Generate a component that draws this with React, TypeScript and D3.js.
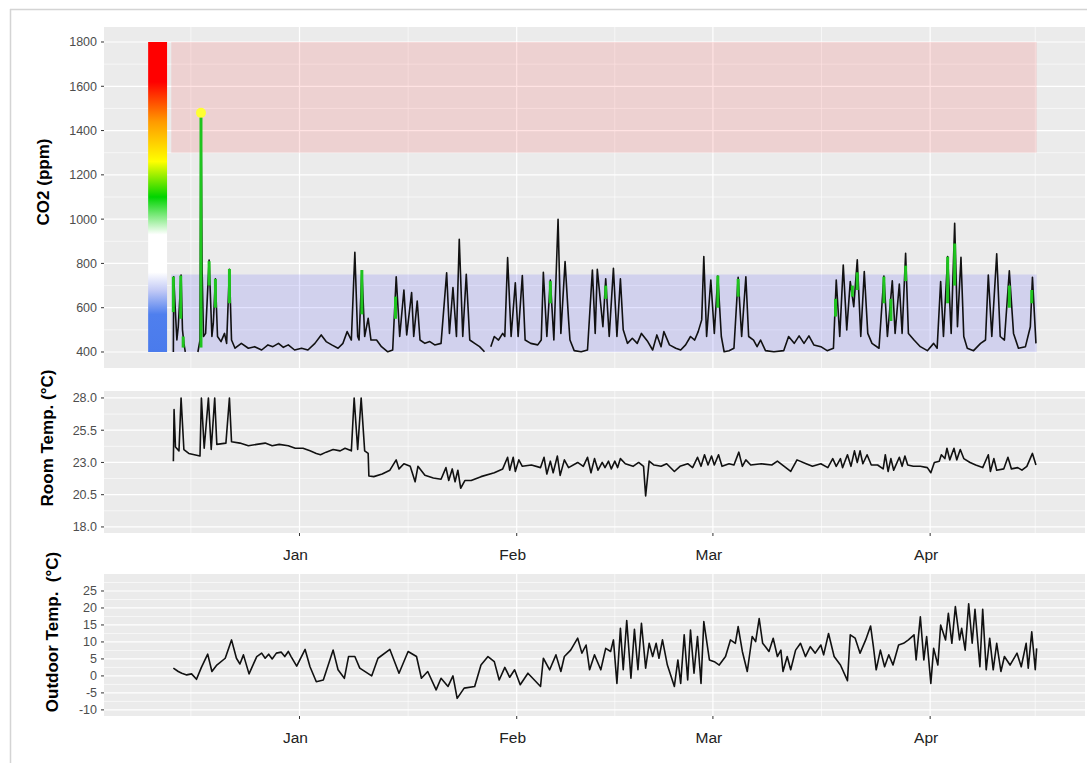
import * as d3 from "d3";

// day offsets are days from 1 Jan 2019 (negative = December 2018)
const co2Data: [number, number | null][] = [
  [-18.0, 400], [-17.95, 740], [-17.7, 575], [-17.5, 454], [-17.3, 515], [-16.9, 748],
  [-16.7, 500], [-16.5, 440], [-16.3, 400], [-15.9, null],
  [-14.5, 400], [-14.2, 454], [-14.06, 1465], [-13.9, 770], [-13.7, 470], [-13.4, 484],
  [-12.9, 815], [-12.5, 470], [-12.3, 530], [-12.0, 730], [-11.7, 470], [-11.2, 447],
  [-10.7, 484], [-10.4, 439], [-10.0, 773], [-9.7, 454], [-9.2, 417], [-8.3, 439],
  [-7.3, 417], [-6.4, 424], [-5.4, 409], [-4.5, 432], [-3.8, 424], [-3.0, 439],
  [-2.3, 421], [-1.6, 432], [-0.7, 409], [0.3, 417], [1.2, 409], [2.2, 439],
  [3.1, 477], [3.8, 447], [4.6, 432], [5.5, 417], [6.2, 439], [6.8, 492], [7.4, 454],
  [7.9, 850], [8.3, 470], [8.5, 454], [8.9, 767], [9.3, 470], [9.8, 552], [10.2, 454],
  [11.0, 454], [11.7, 424], [12.6, 401], [13.3, 409], [13.8, 740], [14.3, 470],
  [14.9, 680], [15.3, 477], [16.0, 668], [16.3, 470], [16.8, 630], [17.2, 454],
  [17.9, 439], [18.6, 447], [19.3, 432], [20.2, 439], [21.0, 758], [21.4, 484],
  [21.9, 691], [22.4, 470], [22.8, 909], [23.3, 470], [23.8, 751], [24.3, 454],
  [25.0, 439], [25.7, 424], [26.4, 401], [26.8, null],
  [27.3, 424], [27.8, 470], [28.4, 454], [29.0, 484], [29.3, 470], [29.7, 826],
  [30.2, 470], [30.8, 713], [31.2, 470], [31.8, 745], [32.2, 454], [33.0, 439],
  [34.0, 432], [34.5, 454], [34.8, 760], [35.3, 470], [35.8, 725], [36.3, 454],
  [36.9, 999], [37.3, 484], [37.9, 808], [38.4, 545], [38.6, 454], [39.2, 406],
  [40.2, 401], [41.1, 409], [41.8, 770], [42.2, 484], [42.5, 773], [43.3, 514],
  [43.7, 730], [44.2, 470], [44.8, 778], [45.3, 470], [45.8, 730], [46.2, 500],
  [46.8, 439], [47.5, 462], [48.2, 439], [48.8, 484], [49.7, 447], [50.4, 409],
  [51.0, 477], [51.6, 424], [52.0, 492], [52.8, 432], [53.7, 417], [54.4, 409],
  [55.1, 432], [55.8, 470], [56.4, 454], [56.9, 492], [57.4, 545], [57.7, 831],
  [58.1, 470], [58.7, 725], [59.2, 484], [59.7, 743], [60.2, 470], [60.6, 401],
  [61.3, 406], [62.0, 417], [62.6, 737], [63.1, 470], [63.7, 740], [64.1, 470],
  [64.8, 454], [65.3, 424], [65.8, 454], [66.5, 406], [67.7, 401], [69.1, 406],
  [69.8, 470], [70.6, 439], [71.3, 473], [72.0, 439], [72.7, 473], [73.4, 432],
  [74.4, 424], [75.3, 406], [76.2, 417], [76.6, 725], [77.1, 470], [77.6, 793],
  [78.1, 500], [78.6, 718], [79.1, 605], [79.6, 816], [80.1, 470], [80.6, 763],
  [81.1, 484], [81.7, 439], [82.7, 417], [83.4, 743], [83.9, 470], [84.6, 722],
  [85.0, 484], [85.6, 707], [86.0, 484], [86.5, 846], [86.9, 484], [87.7, 454],
  [88.6, 424], [89.6, 406], [90.5, 439], [91.0, 417], [91.5, 718], [91.9, 470],
  [92.5, 831], [93.0, 484], [93.5, 981], [93.9, 514], [94.4, 828], [94.8, 470],
  [95.3, 417], [96.2, 406], [97.2, 439], [97.9, 454], [98.3, 748], [98.8, 470],
  [99.5, 843], [100.0, 470], [100.6, 454], [101.3, 767], [101.9, 484], [102.6, 417],
  [103.6, 424], [104.3, 514], [104.6, 737], [105.1, 439],
];

// [day, low ppm, high ppm] highlighted stretches
const co2Highlights: [number, number, number][] = [
  [-18.0, 580, 740], [-16.95, 550, 745], [-16.6, 420, 470], [-14.06, 420, 1460],
  [-12.9, 700, 810], [-12.0, 600, 730], [-10.0, 620, 775], [8.9, 570, 770],
  [13.7, 550, 650], [35.8, 620, 720], [43.7, 640, 700], [59.7, 600, 745],
  [62.6, 650, 730], [76.5, 560, 640], [78.9, 650, 700], [79.6, 680, 760],
  [83.4, 620, 740], [84.4, 540, 640], [86.5, 720, 790], [92.5, 620, 830],
  [93.5, 700, 890], [101.3, 600, 700], [104.5, 620, 680],
];
const co2Max: [number, number] = [-14.06, 1480];

const roomData: [number, number][] = [
  [-18.0, 23.1], [-17.9, 27.1], [-17.7, 24.2], [-17.2, 23.9], [-16.9, 28.0], [-16.5, 24.0],
  [-15.8, 23.7], [-15.0, 23.6], [-14.2, 23.5], [-14.0, 28.0], [-13.6, 24.1], [-13.0, 28.0],
  [-12.6, 24.0], [-12.1, 28.0], [-11.8, 24.4], [-10.5, 24.5], [-10.0, 28.0], [-9.7, 24.6],
  [-8.5, 24.5], [-7.3, 24.3], [-6.1, 24.4], [-4.9, 24.5], [-3.9, 24.3], [-2.9, 24.4],
  [-1.6, 24.3], [-0.6, 24.1], [0.5, 24.1], [1.5, 23.9], [2.4, 23.7], [3.0, 23.6],
  [3.8, 23.8], [4.8, 24.0], [5.8, 23.9], [6.5, 24.1], [7.4, 23.9], [7.8, 28.0],
  [8.3, 24.0], [8.8, 28.0], [9.3, 23.9], [9.8, 23.7], [9.9, 21.95], [10.6, 21.9],
  [11.8, 22.1], [12.9, 22.4], [13.8, 23.2], [14.2, 22.5], [14.9, 22.9], [15.8, 22.7],
  [16.5, 21.5], [16.9, 22.7], [17.9, 22.0], [19.1, 21.8], [20.2, 21.7], [20.9, 22.6],
  [21.3, 21.6], [21.8, 22.5], [22.2, 21.5], [22.6, 22.4], [23.0, 21.0], [23.6, 21.6],
  [24.5, 21.6], [25.9, 21.9], [27.8, 22.2], [29.0, 22.5], [29.7, 23.4], [30.0, 22.4],
  [30.5, 23.4], [30.8, 22.3], [31.3, 23.2], [31.8, 22.7], [33.1, 22.8], [34.4, 22.6],
  [34.9, 23.4], [35.3, 22.1], [35.8, 23.1], [36.2, 22.2], [36.8, 23.5], [37.2, 22.0],
  [37.8, 23.2], [38.4, 22.6], [39.7, 23.0], [40.5, 22.7], [41.1, 23.4], [41.6, 22.2],
  [42.1, 23.3], [42.6, 22.4], [43.2, 23.0], [43.6, 22.6], [44.1, 23.1], [44.5, 22.5],
  [45.0, 23.1], [45.4, 22.6], [45.8, 23.3], [46.5, 22.9], [47.6, 22.7], [48.4, 23.0],
  [49.1, 22.7], [49.4, 20.4], [49.9, 23.1], [50.6, 22.8], [51.6, 22.7], [52.4, 22.9],
  [53.5, 22.3], [54.3, 22.7], [55.4, 22.9], [56.1, 22.6], [56.8, 23.4], [57.3, 22.7],
  [57.8, 23.6], [58.3, 22.8], [58.8, 23.5], [59.2, 22.8], [59.8, 23.6], [60.3, 22.7],
  [61.3, 22.9], [62.0, 22.8], [62.7, 23.8], [63.2, 22.7], [63.7, 23.2], [64.4, 22.8],
  [65.9, 22.9], [67.4, 22.8], [68.2, 23.1], [70.1, 22.3], [71.0, 23.2], [72.3, 22.9],
  [73.2, 22.7], [74.4, 22.9], [75.4, 22.6], [76.1, 23.3], [76.6, 22.7], [77.2, 23.3],
  [77.5, 22.6], [78.2, 23.6], [78.7, 22.7], [79.2, 23.9], [79.6, 23.0], [80.0, 23.9],
  [80.4, 22.9], [81.0, 23.6], [81.6, 22.8], [82.5, 22.8], [83.3, 22.5], [83.6, 23.6],
  [84.0, 22.3], [84.4, 23.3], [84.8, 22.4], [85.6, 23.4], [86.0, 22.7], [86.4, 23.5],
  [86.8, 22.8], [87.6, 22.7], [88.6, 22.7], [89.6, 22.6], [90.1, 22.2], [90.6, 23.0],
  [91.3, 23.1], [91.6, 23.6], [92.1, 23.3], [92.4, 24.1], [92.8, 23.2], [93.4, 24.1],
  [93.8, 23.2], [94.3, 24.0], [94.8, 23.3], [95.7, 23.0], [96.5, 22.8], [97.5, 22.6],
  [98.3, 23.6], [98.6, 22.3], [99.1, 23.3], [99.5, 22.4], [100.5, 22.5], [101.1, 23.4],
  [101.6, 22.5], [102.5, 22.6], [103.1, 22.4], [103.8, 22.7], [104.6, 23.7], [105.1, 22.8],
];

const outdoorData: [number, number][] = [
  [-18.0, 2.3], [-17.3, 1.3], [-16.8, 0.8], [-16.1, 0.3], [-15.4, 0.6], [-14.7, -1.0],
  [-14.0, 2.5], [-13.1, 6.4], [-12.5, 1.3], [-11.8, 3.2], [-10.6, 5.2], [-9.7, 10.6],
  [-9.0, 5.2], [-8.5, 3.5], [-8.0, 6.2], [-7.2, 0.6], [-6.1, 5.7], [-5.4, 6.7],
  [-4.9, 5.2], [-4.4, 6.4], [-3.9, 5.0], [-3.3, 6.7], [-2.6, 7.0], [-2.1, 5.7],
  [-1.6, 7.2], [-1.2, 5.7], [-0.4, 2.9], [0.8, 7.8], [1.5, 2.7], [2.4, -1.7],
  [3.4, -1.2], [4.8, 7.6], [5.5, 1.8], [6.4, -0.7], [7.0, 5.7], [7.9, 5.7], [8.6, 2.3],
  [10.3, 0.0], [11.2, 5.2], [12.9, 7.8], [14.2, 0.8], [15.5, 7.2], [16.7, 5.7],
  [17.4, -0.7], [18.3, 1.3], [19.5, -4.1], [20.2, -0.7], [21.2, -3.1], [21.9, 0.0],
  [22.5, -6.6], [23.5, -3.6], [25.0, -3.1], [25.9, 3.2], [26.9, 5.7], [27.8, 4.2],
  [28.5, -1.2], [29.3, 2.5], [30.0, -0.4], [30.7, 1.8], [31.5, -2.6], [32.6, 0.8],
  [34.4, -3.1], [34.8, 5.2], [35.7, 1.8], [36.6, 6.2], [37.3, 1.3], [37.8, 5.7],
  [38.7, 7.6], [39.7, 11.1], [40.3, 6.7], [40.9, 9.1], [41.4, 1.8], [42.1, 6.2],
  [43.0, 1.8], [43.7, 8.1], [44.4, 7.2], [44.8, 10.6], [45.3, -2.2], [45.8, 14.0],
  [46.2, 1.8], [46.7, 16.3], [47.3, -0.7], [47.8, 13.7], [48.3, 1.8], [48.8, 15.5],
  [49.4, 2.3], [49.9, 9.6], [50.4, 5.7], [50.9, 9.6], [51.3, 5.2], [51.8, 10.6],
  [52.5, 3.2], [53.5, -3.1], [54.0, 4.7], [54.4, -2.2], [54.9, 12.1], [55.4, -1.2],
  [55.8, 13.5], [56.3, 0.8], [56.8, 11.6], [57.3, -2.2], [57.7, 16.0], [58.5, 4.7],
  [59.2, 4.2], [59.9, 3.2], [60.8, 5.7], [61.5, 10.6], [62.2, 9.6], [62.6, 14.5],
  [63.2, 7.2], [63.9, 1.3], [64.6, 11.6], [65.1, 10.1], [65.6, 16.9], [66.1, 9.6],
  [66.5, 8.6], [67.0, 7.2], [67.6, 11.1], [68.2, 5.7], [68.7, 7.6], [69.0, 1.3],
  [69.6, 5.7], [70.1, 1.8], [70.8, 7.6], [71.5, 9.6], [72.2, 5.7], [72.9, 8.6],
  [73.6, 6.7], [74.4, 9.1], [74.8, 6.2], [75.5, 12.5], [76.3, 5.7], [77.2, 3.2],
  [78.2, -1.4], [78.6, 12.1], [79.3, 11.1], [80.0, 6.7], [80.8, 10.6], [81.5, 14.7],
  [81.9, 8.6], [82.3, 1.8], [82.9, 7.6], [83.5, 2.7], [84.1, 6.2], [84.7, 3.2],
  [85.5, 9.1], [86.2, 9.6], [86.9, 10.6], [87.7, 12.1], [88.0, 4.7], [88.6, 17.4],
  [89.1, 4.7], [89.5, 11.6], [90.1, -2.2], [90.5, 8.1], [91.1, 3.2], [91.5, 15.0],
  [92.2, 10.6], [92.6, 18.4], [93.1, 9.6], [93.6, 20.4], [94.2, 10.6], [94.5, 14.0],
  [95.0, 7.6], [95.5, 21.2], [96.0, 9.6], [96.4, 19.6], [97.1, 2.7], [97.5, 19.6],
  [98.0, 1.8], [98.5, 11.1], [99.0, 1.8], [99.5, 9.6], [100.1, 1.3], [100.6, 5.7],
  [101.4, 3.2], [102.4, 6.7], [103.0, 2.7], [103.7, 9.6], [104.0, 2.3], [104.5, 13.0],
  [105.0, 1.8], [105.2, 8.1],
];

const co2Ticks = [400, 600, 800, 1000, 1200, 1400, 1600, 1800];
const roomTicks = [18.0, 20.5, 23.0, 25.5, 28.0];
const outdoorTicks = [-10, -5, 0, 5, 10, 15, 20, 25];

// comfort bands [from ppm, to ppm]
const highBand: [number, number] = [1300, 1800];
const lowBand: [number, number] = [400, 750];
const bandDays: [number, number] = [-18.3, 105.2];

// colour key, drawn as a bar left of the data
const keyDays: [number, number] = [-21.6, -18.9];
const keyStops: [number, string][] = [
  [400, "#4a7bec"], [570, "#4f7fee"], [680, "#c4cbf6"], [760, "#ffffff"],
  [930, "#ffffff"], [1100, "#00d400"], [1260, "#ffff00"], [1440, "#ff9a00"],
  [1620, "#ff0000"], [1800, "#ff0000"],
];

const BASE = Date.UTC(2019, 0, 1);
const toDate = (d: number) => new Date(BASE + d * 864e5);

const W = 1087;
const H = 763;
const LEFT = 104;
const RIGHT = 1085;
const FONT = "'Liberation Sans', Arial, sans-serif";

const x = d3.scaleUtc().domain([toDate(-27.9), toDate(112.1)]).range([LEFT, RIGHT]);
const monthTicks = x.ticks(d3.utcMonth.every(1)!);
const monthMinor = d3.utcMonth
  .range(new Date(Date.UTC(2018, 11, 1)), new Date(Date.UTC(2019, 4, 1)))
  .map((m) => new Date((+m + +d3.utcMonth.offset(m, 1)) / 2))
  .filter((m) => x(m) > LEFT && x(m) < RIGHT);
const fmtMonth = d3.utcFormat("%b");

const co2Y = d3.scaleLinear().domain([327.7, 1867.7]).range([368, 27]);
const roomY = d3.scaleLinear().domain([17.53, 28.54]).range([533, 391]);
const outY = d3.scaleLinear().domain([-11.8, 30]).range([716, 574]);

const minorOf = (ticks: number[], y: d3.ScaleLinear<number, number>) => {
  const step = ticks[1] - ticks[0];
  const [lo, hi] = y.domain();
  const out: number[] = [];
  for (let v = ticks[0] - step / 2; v <= hi; v += step) if (v >= lo) out.push(v);
  return out;
};

function Panel({
  y, ticks, fmt, title, titleX, titleY, showX,
}: {
  y: d3.ScaleLinear<number, number>;
  ticks: number[];
  fmt: (v: number) => string;
  title: string;
  titleX: number;
  titleY: number;
  showX: boolean;
}) {
  const [bottom, top] = y.range();
  return (
    <g>
      <rect x={LEFT} y={top} width={RIGHT - LEFT} height={bottom - top} fill="#ebebeb" />
      {minorOf(ticks, y).map((v) => (
        <line key={"hm" + v} x1={LEFT} x2={RIGHT} y1={y(v)} y2={y(v)} stroke="#fff" strokeWidth={0.6} />
      ))}
      {monthMinor.map((m) => (
        <line key={"vm" + +m} x1={x(m)} x2={x(m)} y1={top} y2={bottom} stroke="#fff" strokeWidth={0.6} />
      ))}
      {ticks.map((v) => (
        <line key={"h" + v} x1={LEFT} x2={RIGHT} y1={y(v)} y2={y(v)} stroke="#fff" strokeWidth={1.2} />
      ))}
      {monthTicks.map((m) => (
        <line key={"v" + +m} x1={x(m)} x2={x(m)} y1={top} y2={bottom} stroke="#fff" strokeWidth={1.2} />
      ))}
      {ticks.map((v) => (
        <g key={"t" + v}>
          <line x1={LEFT - 3} x2={LEFT} y1={y(v)} y2={y(v)} stroke="#333" strokeWidth={1} />
          <text x={LEFT - 7} y={y(v)} dy="0.35em" textAnchor="end" fontSize={12.5} fill="#4d4d4d" fontFamily={FONT}>
            {fmt(v)}
          </text>
        </g>
      ))}
      {showX &&
        monthTicks.map((m) => (
          <g key={"x" + +m}>
            <line x1={x(m)} x2={x(m)} y1={bottom} y2={bottom + 3} stroke="#333" strokeWidth={1} />
            <text x={x(m) - 4} y={bottom + 22} dy="0.35em" textAnchor="middle" fontSize={15.5} fill="#222" fontFamily={FONT}>
              {fmtMonth(m)}
            </text>
          </g>
        ))}
      <text
        transform={`translate(${titleX},${titleY}) rotate(-90)`}
        textAnchor="middle"
        dy="0.35em"
        fontSize={17}
        fontWeight="bold"
        fontFamily={FONT}
        fill="#000"
        style={{ whiteSpace: "pre" }}
      >
        {title}
      </text>
    </g>
  );
}

export default function App() {
  const co2Line = d3
    .line<[number, number | null]>()
    .defined((d) => d[1] !== null)
    .x((d) => x(toDate(d[0])))
    .y((d) => co2Y(d[1] as number));
  const tempLine = (y: d3.ScaleLinear<number, number>) =>
    d3
      .line<[number, number]>()
      .x((d) => x(toDate(d[0])))
      .y((d) => y(d[1]));

  const bx0 = x(toDate(bandDays[0]));
  const bx1 = x(toDate(bandDays[1]));
  const kx0 = x(toDate(keyDays[0]));
  const kx1 = x(toDate(keyDays[1]));

  return (
    <svg width={W} height={H} style={{ position: "absolute", left: 0, top: 0, background: "#fff" }}>
      <defs>
        <linearGradient id="co2key" gradientUnits="userSpaceOnUse" x1={0} x2={0} y1={co2Y(400)} y2={co2Y(1800)}>
          {keyStops.map(([v, c]) => (
            <stop key={v} offset={(v - 400) / 1400} stopColor={c} />
          ))}
        </linearGradient>
      </defs>
      <line x1={10.5} x2={10.5} y1={9} y2={H} stroke="#d4d4d4" strokeWidth={1.5} />
      <line x1={10} x2={W} y1={9.5} y2={9.5} stroke="#d4d4d4" strokeWidth={1.5} />

      <Panel y={co2Y} ticks={co2Ticks} fmt={(v) => String(v)} title="CO2 (ppm)" titleX={43} titleY={182} showX={false} />
      <rect x={bx0} width={bx1 - bx0} y={co2Y(highBand[1])} height={co2Y(highBand[0]) - co2Y(highBand[1])} fill="#ff0000" fillOpacity={0.11} />
      <rect x={bx0} width={bx1 - bx0} y={co2Y(lowBand[1])} height={co2Y(lowBand[0]) - co2Y(lowBand[1])} fill="#0000ff" fillOpacity={0.11} />
      <rect x={kx0} width={kx1 - kx0} y={co2Y(1800)} height={co2Y(400) - co2Y(1800)} fill="url(#co2key)" />
      <path d={co2Line(co2Data) ?? ""} fill="none" stroke="#111" strokeWidth={1.6} strokeLinejoin="round" />
      {co2Highlights.map(([d, lo, hi]) => (
        <line key={d} x1={x(toDate(d))} x2={x(toDate(d))} y1={co2Y(lo)} y2={co2Y(hi)} stroke="#1fc41f" strokeWidth={3} />
      ))}
      <circle cx={x(toDate(co2Max[0]))} cy={co2Y(co2Max[1])} r={5} fill="#ffff33" />

      <Panel y={roomY} ticks={roomTicks} fmt={d3.format(".1f")} title="Room Temp. (°C)" titleX={47} titleY={438} showX={true} />
      <path d={tempLine(roomY)(roomData) ?? ""} fill="none" stroke="#111" strokeWidth={1.6} strokeLinejoin="round" />

      <Panel y={outY} ticks={outdoorTicks} fmt={(v) => String(v)} title="Outdoor Temp.  (°C)" titleX={52} titleY={632} showX={true} />
      <path d={tempLine(outY)(outdoorData) ?? ""} fill="none" stroke="#111" strokeWidth={1.6} strokeLinejoin="round" />
    </svg>
  );
}
